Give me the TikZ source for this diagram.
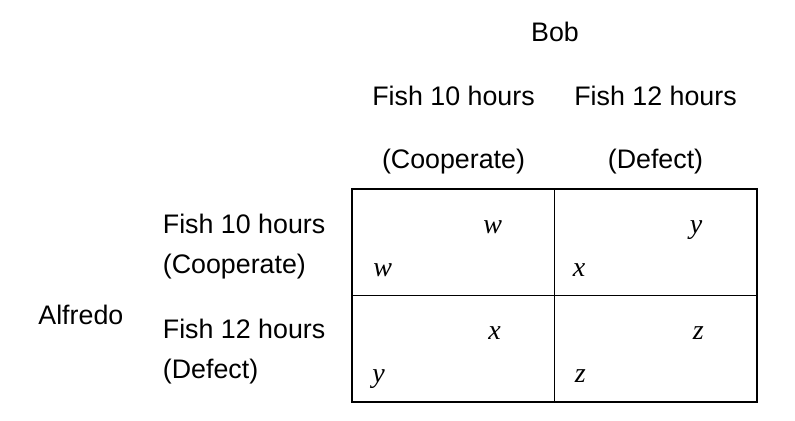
\documentclass[tikz,border=0pt]{standalone}
\usepackage{fontspec}
\setmainfont{Liberation Sans}
\newfontfamily\payofffont{Liberation Serif}
\usepackage{tikz}
\usetikzlibrary{positioning, calc}
\def\cellwidth{101.25pt}
\def\cellheight{53.25pt}
\tikzstyle{grid} = [black, line width=0.7pt]
\newcommand{\tikzcellnode}{\node[
  draw=black, rectangle, minimum width=\cellwidth, minimum height=\cellheight,
  inner sep=0, outer sep=0, line width=0.7pt
]}
\newcommand{\tikzlabelnode}[1]{\node[
  draw=none, anchor=#1, inner sep=0, font=\fontsize{13.4pt}{13.4pt}\selectfont
]}
\newcommand{\tikzpayoffnode}{\node[
  draw=none, anchor=base west, inner sep=0, font=\payofffont\itshape\fontsize{14pt}{14pt}\selectfont
]}

\begin{document}
\begin{tikzpicture}[x=0.5pt, y=-0.5pt, node distance=0pt]
    \useasboundingbox (0, 0) rectangle (795, 420);

    % cells
    \tikzcellnode[anchor=north west] at (352, 189)  (cc) {};
    \tikzcellnode[right = of cc]                    (cd) {};
    \tikzcellnode[below = of cc]                    (dc) {};
    \tikzcellnode[right = of dc]                    (dd) {};

    % payoffs
    \tikzpayoffnode at ($(cc.north west)+(131, 44)$) (cc-bob)     {w};
    \tikzpayoffnode at ($(cc.north west)+(21, 87)$)  (cc-alfredo) {w};
    \tikzpayoffnode at ($(cd.north west)+(135, 44)$) (cd-bob)     {y};
    \tikzpayoffnode at ($(cd.north west)+(18, 87)$)  (cd-alfredo) {x};
    \tikzpayoffnode at ($(dc.north west)+(136, 44)$) (dc-bob)     {x};
    \tikzpayoffnode at ($(dc.north west)+(20, 87)$)  (dc-alfredo) {y};
    \tikzpayoffnode at ($(dd.north west)+(138, 44)$) (dd-bob)     {z};
    \tikzpayoffnode at ($(dd.north west)+(20, 87)$)  (dd-alfredo) {z};

    % bob
    \tikzlabelnode{base} at (555, 41.5)  (bob)      {Bob};
    \tikzlabelnode{base} at (453.5, 105) (bob-c)    {Fish 10 hours};
    \tikzlabelnode{base} at (655.5, 105) (bob-d)    {Fish 12 hours};
    \tikzlabelnode{base} at (453.5, 168) (bob-c2)   {(Cooperate)};
    \tikzlabelnode{base} at (655.5, 168) (bob-d2)   {(Defect)};

    % alfredo
    \tikzlabelnode{base west} at (38, 324)   (alfredo)    {Alfredo};
    \tikzlabelnode{base west} at (162.5, 233) (alfredo-c)  {Fish 10 hours};
    \tikzlabelnode{base west} at (162.5, 273) (alfredo-c2) {(Cooperate)};
    \tikzlabelnode{base west} at (162.5, 338) (alfredo-d)  {Fish 12 hours};
    \tikzlabelnode{base west} at (162.5, 378) (alfredo-d2) {(Defect)};
  \end{tikzpicture}
\end{document}
